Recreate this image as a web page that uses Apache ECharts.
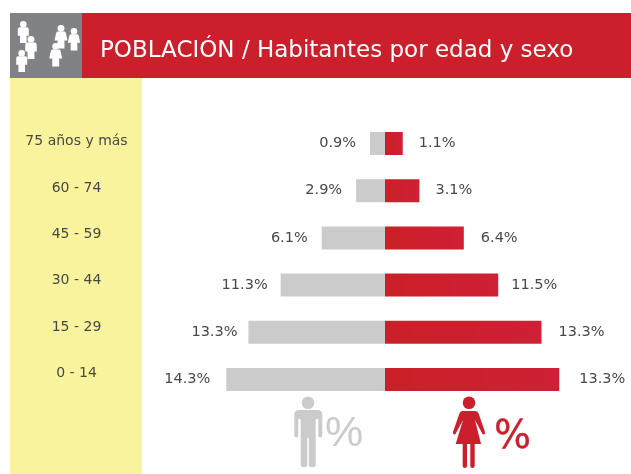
<!DOCTYPE html>
<html><head><meta charset="utf-8">
<style>html,body{margin:0;padding:0;background:#fff}#c{width:631px;height:474px;filter:blur(0.4px)}</style>
<script src="https://cdn.jsdelivr.net/npm/echarts@6/dist/echarts.min.js"></script>
</head><body><div id="c"></div>
<script>
const titleText = 'POBLACIÓN / Habitantes por edad y sexo';
const ageGroups = ['75 años y más','60 - 74','45 - 59','30 - 44','15 - 29','0 - 14'];
// printed labels
const menLabels = ['0.9%','2.9%','6.1%','11.3%','13.3%','14.3%'];
const womenLabels = ['1.1%','3.1%','6.4%','11.5%','13.3%','13.3%'];
// bar lengths as drawn (the picture's bars are not strictly proportional to the printed labels)
const menBars = [1.35,2.6,5.7,9.4,12.3,14.3];
const womenBars = [1.6,3.1,7.1,10.2,14.1,15.7];

const RED='#CC1F2C', GREY='#CBCBCB', TXT='#484848', FONT='"DejaVu Sans",Verdana,sans-serif';
const menLabelGap=[14,14,14,13,11,16];
const womenLabelGap=[16,16,17,13,17,20];

const g=echarts.graphic;
g.registerShape('miniMan',g.extendPath('M-3.2 5.6 H3.2 Q5 5.6 5 7.5 V13.5 H3 V20 H-3 V13.5 H-5 V7.5 Q-5 5.6 -3.2 5.6 Z'));
g.registerShape('miniWoman',g.extendPath('M-3 5.6 H3 Q4 5.6 4.4 7.5 L5.6 13.5 H3 V20.5 H-3 V13.5 H-5.6 L-4.4 7.5 Q-4 5.6 -3 5.6 Z'));
g.registerShape('manBody',g.extendPath('M299 410 H317.5 Q322.3 410 322.3 415 V435.5 Q322.3 437.5 320.3 437.5 Q318.3 437.5 318.3 435.5 V419 H315.7 V465 Q315.7 467 312.5 467 Q308.8 467 308.8 465 V438 H307.3 V465 Q307.3 467 304 467 Q300.7 467 300.7 465 V419 H298.3 V435.5 Q298.3 437.5 296.3 437.5 Q294.3 437.5 294.3 435.5 V415 Q294.3 410 299 410 Z'));
g.registerShape('womanBody',g.extendPath('M462.5 411 H475.5 Q477.8 411 478.6 413.5 L485 432 Q485.3 434.5 483.5 434.5 Q482.4 434.5 482 433 L475 420 L481 444 H474.7 V466 Q474.7 468 472.5 468 Q470.3 468 470.3 466 V444 H467 V466 Q467 468 464.8 468 Q462.7 468 462.7 466 V444 H455.7 L463 420 L456 433 Q455.5 434.5 454.5 434.5 Q452.6 434.5 453 432 L459.4 413.5 Q460.2 411 462.5 411 Z'));

function person(cx, top, h, kind){
  const u=h/20;
  return {type:'group',x:cx,y:top,scaleX:u,scaleY:u,children:[
    {type:'circle',shape:{cx:0,cy:2.9,r:3},style:{fill:'#fff'}},
    {type:kind,style:{fill:'#fff'}}
  ]};
}

const chart=echarts.init(document.getElementById('c'),null,{renderer:'canvas'});
chart.setOption({
  animation:false,
  backgroundColor:'#fff',
  title:{text:titleText,left:95,top:35,textStyle:{color:'#fff',fontFamily:FONT,fontSize:23,fontWeight:'normal'}},
  grid:[
    {left:207.4,width:355.2,top:119.9,height:283.2},
    {left:76.5,width:1,top:118.3,height:278.4}
  ],
  xAxis:[
    {gridIndex:0,type:'value',min:-16,max:16,show:false},
    {gridIndex:1,type:'value',show:false}
  ],
  yAxis:[
    {gridIndex:0,type:'category',inverse:true,data:ageGroups,show:false},
    {gridIndex:1,type:'category',inverse:true,data:ageGroups,
      axisLine:{show:false},axisTick:{show:false},
      axisLabel:{align:'center',margin:0,color:TXT,fontFamily:FONT,fontSize:14}}
  ],
  series:[
    {type:'bar',name:'Hombres',stack:'p',barWidth:23,xAxisIndex:0,yAxisIndex:0,
      data:menBars.map((v,i)=>({value:-v,label:{distance:menLabelGap[i]}})),itemStyle:{color:GREY},
      label:{show:true,position:'left',color:TXT,fontFamily:FONT,fontSize:14.5,
        formatter:p=>menLabels[p.dataIndex]}},
    {type:'bar',name:'Mujeres',stack:'p',barWidth:23,xAxisIndex:0,yAxisIndex:0,
      data:womenBars.map((v,i)=>({value:v,label:{distance:womenLabelGap[i]}})),
      itemStyle:{color:new echarts.graphic.LinearGradient(0,0,1,0,[{offset:0,color:'#CB2027'},{offset:1,color:'#CF2036'}])},
      label:{show:true,position:'right',color:TXT,fontFamily:FONT,fontSize:14.5,
        formatter:p=>womenLabels[p.dataIndex]}}
  ],
  graphic:[
    {type:'rect',z:-10,shape:{x:10,y:78,width:132,height:396},style:{fill:'#F9F39D'}},
    {type:'rect',z:-10,shape:{x:10,y:13,width:72,height:65},style:{fill:'#808285'}},
    {type:'rect',z:-10,shape:{x:82,y:13,width:549,height:65},style:{fill:RED}},
    person(23.3,21,22,'miniMan'),person(31,36,23,'miniMan'),person(21.7,50,22,'miniMan'),
    person(61,25,23,'miniWoman'),person(74,28,22,'miniWoman'),person(55.7,43,23,'miniWoman'),
    {type:'manBody',style:{fill:GREY}},
    {type:'circle',shape:{cx:308,cy:402.7,r:6.3},style:{fill:GREY}},
    {type:'womanBody',style:{fill:RED}},
    {type:'circle',shape:{cx:469,cy:402.7,r:6.3},style:{fill:RED}},
    {type:'text',x:325,y:413,style:{text:'%',fill:GREY,fontFamily:'"Liberation Sans",Arial,sans-serif',fontSize:43,fontWeight:'normal'}},
    {type:'text',x:494,y:418,style:{text:'%',fill:RED,stroke:RED,lineWidth:0.4,fontFamily:FONT,fontSize:39,fontWeight:'normal'}}
  ]
});
</script></body></html>
